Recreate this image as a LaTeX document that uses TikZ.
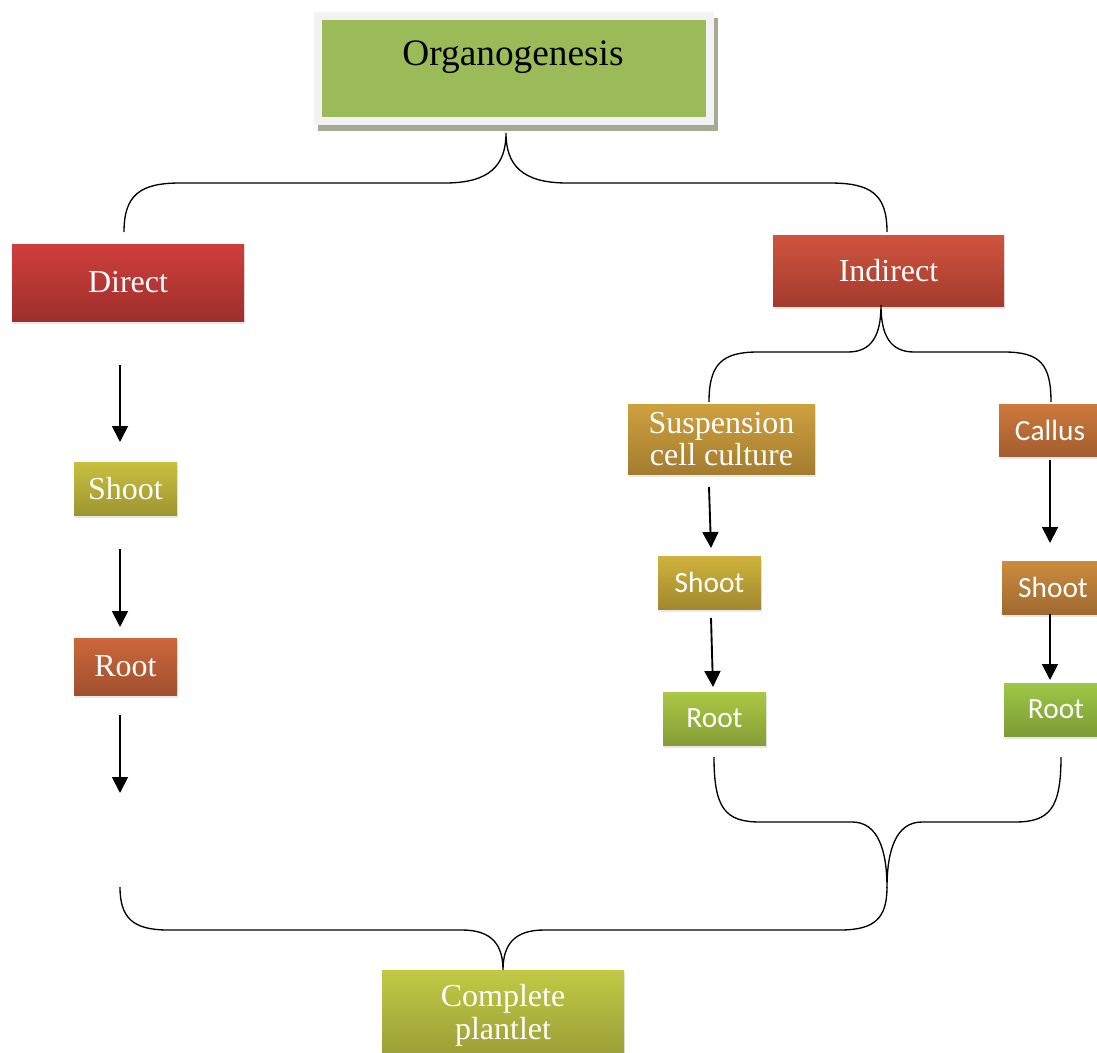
\documentclass[tikz,border=0pt]{standalone}
\usepackage{fontspec}
\setmainfont{Liberation Serif}
\newfontfamily\calib{Carlito}
\usetikzlibrary{arrows.meta,shadows}
\definecolor{orgfill}{HTML}{9BBB59}
\definecolor{orgrim}{HTML}{F2F2F2}
\definecolor{orgshadow}{HTML}{A5AA92}
\definecolor{dirT}{HTML}{CF3E3C}\definecolor{dirB}{HTML}{9E2F2C}
\definecolor{indT}{HTML}{CF543D}\definecolor{indB}{HTML}{A33B2E}
\definecolor{shlT}{HTML}{C9C03F}\definecolor{shlB}{HTML}{9D9530}
\definecolor{rolT}{HTML}{CC673B}\definecolor{rolB}{HTML}{A14F2D}
\definecolor{susT}{HTML}{CEA13F}\definecolor{susB}{HTML}{A47C2F}
\definecolor{calT}{HTML}{CD7A3C}\definecolor{calB}{HTML}{A35D2F}
\definecolor{shmT}{HTML}{CFB33C}\definecolor{shmB}{HTML}{A1882F}
\definecolor{shrT}{HTML}{CC8C3E}\definecolor{shrB}{HTML}{9F6930}
\definecolor{romT}{HTML}{ACC845}\definecolor{romB}{HTML}{869D36}
\definecolor{rorT}{HTML}{9FC746}\definecolor{rorB}{HTML}{7B9B36}
\definecolor{plaT}{HTML}{C1CA45}\definecolor{plaB}{HTML}{999C36}
\tikzset{
  sz/.style 2 args={minimum width=#1*0.75pt, minimum height=#2*0.75pt},
  gbox/.style 2 args={rectangle, inner sep=0pt, draw=none, top color=#1, bottom color=#2,
     text=white, drop shadow={opacity=0.18, shadow xshift=1pt, shadow yshift=-2.5pt}},
  serif/.style={font=\fontsize{24}{24}\selectfont, align=center},
  sans/.style={font=\calib\fontsize{22}{22}\selectfont},
  arr/.style={line width=1.4pt, -{Triangle[length=12pt,width=12pt]}},
  brace/.style={line width=1pt}
}
\begin{document}
\begin{tikzpicture}[x=0.75pt,y=-0.75pt]
\useasboundingbox (0,0) rectangle (1097,1053);
% Organogenesis box
\fill[orgshadow] (318,18) rectangle (718,131);
\fill[orgrim] (314,12) rectangle (714,125);
\node[rectangle, fill=orgfill, inner sep=0pt, sz={384}{97}] (org) at (514,68.5) {};
\node[anchor=base, font=\fontsize{28}{28}\selectfont, text=black] (orgtext) at (513,65) {Organogenesis};
% Boxes
\node[gbox={dirT}{dirB}, sz={232}{77}, serif] (direct) at (128,282.5) {Direct};
\node[gbox={indT}{indB}, sz={231}{71}, serif] (indirect) at (888.5,270.5) {Indirect};
\node[gbox={shlT}{shlB}, sz={103}{53}, serif] (shootL) at (125.5,488.5) {Shoot};
\node[gbox={rolT}{rolB}, sz={103}{57}, serif] (rootL) at (125.5,666.5) {Root};
\node[gbox={susT}{susB}, sz={187}{70}, serif] (susp) at (721.5,439) {Suspension\\cell culture};
\node[gbox={calT}{calB}, sz={102}{52}, sans] (callus) at (1050,430) {Callus};
\node[gbox={shmT}{shmB}, sz={103}{53}, sans] (shootM) at (709.5,582.5) {Shoot};
\node[gbox={shrT}{shrB}, sz={102}{53}, sans] (shootR) at (1053,587.5) {Shoot};
\node[gbox={romT}{romB}, sz={103}{53}, sans] (rootM) at (714.5,718.5) {Root};
\node[gbox={rorT}{rorB}, sz={104}{53}, sans] (rootR) at (1056,709.5) {Root};
\node[gbox={plaT}{plaB}, sz={242}{90}, font=\fontsize{24}{25}\selectfont, align=center] (plant) at (503,1015) {Complete\\plantlet};
% Arrow end points
\coordinate (a1s) at (120,365); \coordinate (a1e) at (120,442);
\coordinate (a2s) at (120,549); \coordinate (a2e) at (120,627);
\coordinate (a3s) at (120,715); \coordinate (a3e) at (120,793);
\coordinate (m1s) at (709,487); \coordinate (m1e) at (711,548);
\coordinate (m2s) at (711,618); \coordinate (m2e) at (713,687);
\coordinate (r1s) at (1050,460); \coordinate (r1e) at (1050,543);
\coordinate (r2s) at (1050,614); \coordinate (r2e) at (1050,680);
\draw[arr] (a1s) -- (a1e);
\draw[arr] (a2s) -- (a2e);
\draw[arr] (a3s) -- (a3e);
\draw[arr] (m1s) -- (m1e);
\draw[arr] (m2s) -- (m2e);
\draw[arr] (r1s) -- (r1e);
\draw[arr] (r2s) -- (r2e);
% Braces
\coordinate (b1l) at (124,232); \coordinate (b1t) at (506,133); \coordinate (b1r) at (887,232);
\draw[brace] (b1l) .. controls (124,195) and (140,183) .. (180,183) -- (445,183)
  .. controls (490,183) and (506,165) .. (b1t)
  .. controls (506,165) and (522,183) .. (567,183) -- (830,183)
  .. controls (872,183) and (887,195) .. (b1r);
\coordinate (b2l) at (709,402); \coordinate (b2t) at (881,305); \coordinate (b2r) at (1051,402);
\draw[brace] (b2l) .. controls (709,364) and (722,352) .. (758,352) -- (848,352)
  .. controls (872,352) and (881,335) .. (b2t)
  .. controls (881,335) and (890,352) .. (914,352) -- (1004,352)
  .. controls (1040,352) and (1051,364) .. (b2r);
\coordinate (b3l) at (714,757); \coordinate (b3t) at (887,888); \coordinate (b3r) at (1061,757);
\draw[brace] (b3l) .. controls (714,808) and (725,822) .. (760,822) -- (852,822)
  .. controls (878,822) and (887,850) .. (b3t)
  .. controls (887,850) and (896,822) .. (922,822) -- (1015,822)
  .. controls (1050,822) and (1061,808) .. (b3r);
\coordinate (b4l) at (120,887); \coordinate (b4t) at (503,970); \coordinate (b4r) at (887,887);
\draw[brace] (b4l) .. controls (120,918) and (133,930) .. (168,930) -- (462,930)
  .. controls (492,930) and (503,945) .. (b4t)
  .. controls (503,945) and (514,930) .. (544,930) -- (840,930)
  .. controls (875,930) and (887,918) .. (b4r);
\end{tikzpicture}
\end{document}
